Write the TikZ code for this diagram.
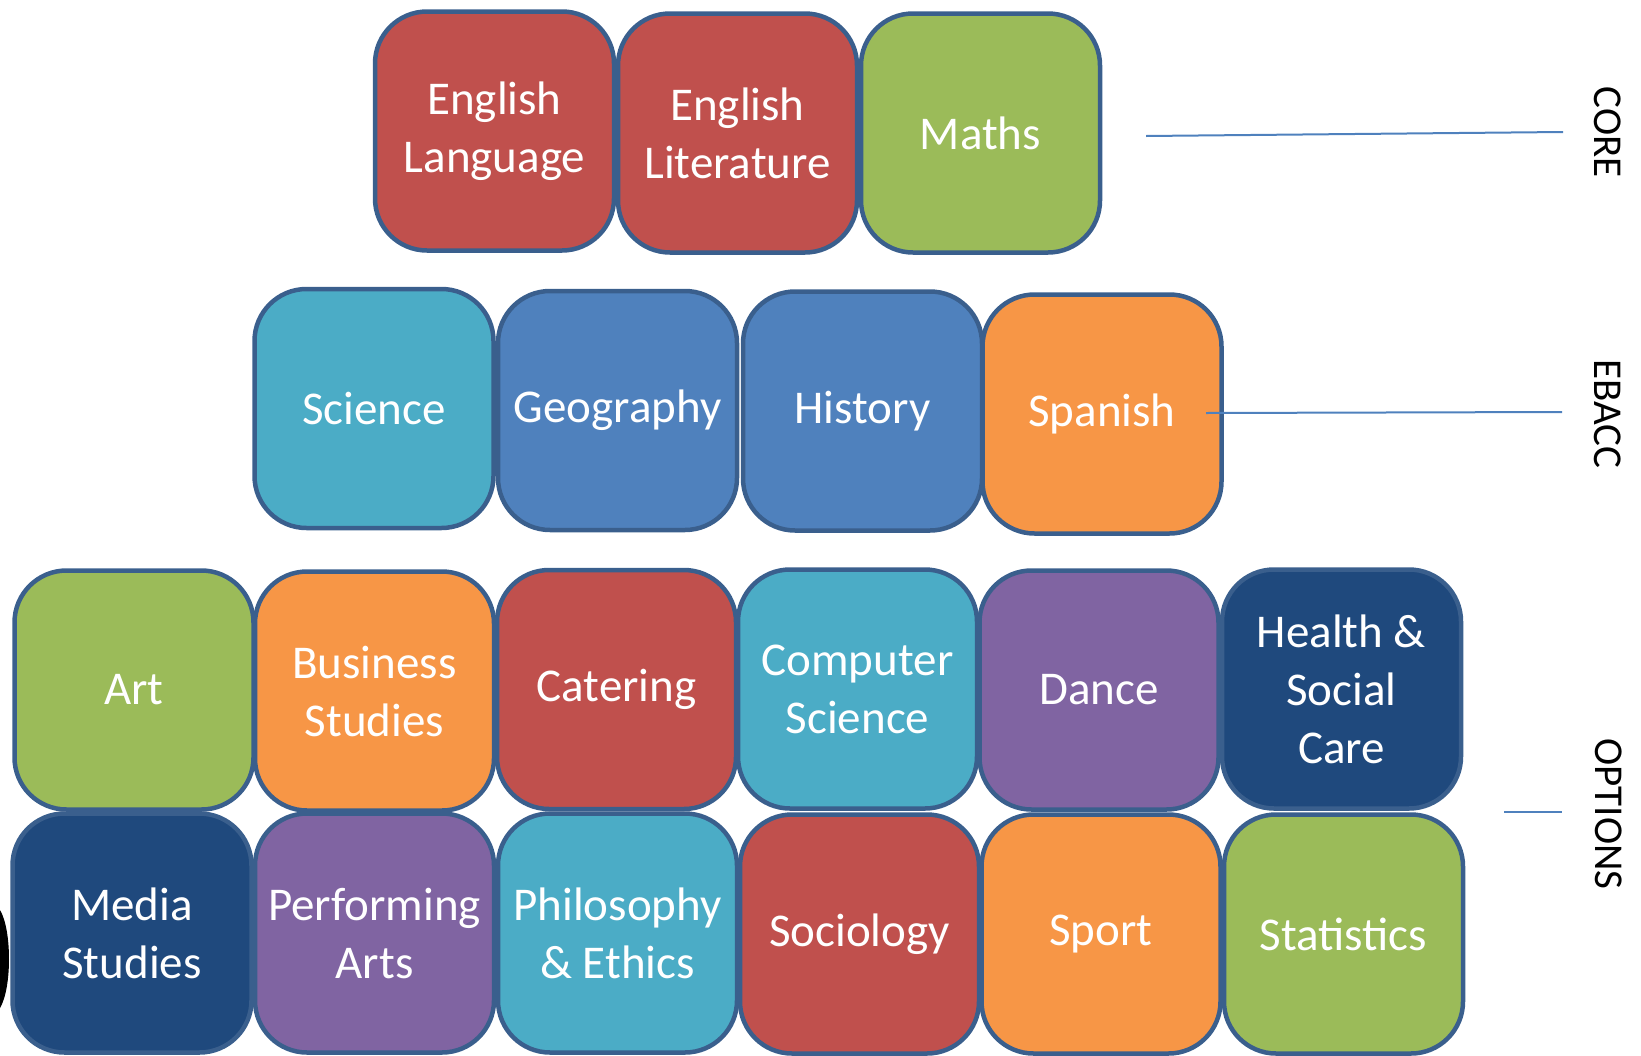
\documentclass[tikz,border=0pt]{standalone}
\usepackage{fontspec}
\setmainfont{Carlito}
\definecolor{cred}{HTML}{C0504D}
\definecolor{cgreen}{HTML}{9BBB59}
\definecolor{cteal}{HTML}{4BACC6}
\definecolor{cblue}{HTML}{4F81BD}
\definecolor{corange}{HTML}{F79646}
\definecolor{cpurple}{HTML}{8064A2}
\definecolor{cnavy}{HTML}{1F497D}
\definecolor{cborder}{HTML}{3A5F8D}
\definecolor{cline}{HTML}{4F81BD}
\begin{document}
\begin{tikzpicture}[x=1pt,y=-1pt,
  subj/.style={draw=cborder, line width=4.5pt, rounded corners=52pt,
    minimum width=239pt, minimum height=239pt, inner sep=0pt,
    text=white, align=center, font=\fontsize{47}{58}\selectfont},
  tag/.style={rotate=-90, font=\fontsize{41}{48}\selectfont, text=black, inner sep=0pt},
  link/.style={draw=cline, line width=2pt}]
\useasboundingbox (0,0) rectangle (1641,1055);
% left edge fragment
\fill[black] (0,910) .. controls (12,930) and (12,988) .. (0,1008) -- cycle;
% core row
\node[subj, fill=cred] (englang) at (494.5,131) {English\\Language};
\node[subj, fill=cred] (englit) at (737.5,133) {English\\Literature};
\node[subj, fill=cgreen] (maths) at (980.5,133) {Maths};
% ebacc row
\node[subj, fill=cteal] (science) at (374,408.5) {Science};
\node[subj, fill=cblue] (geography) at (617.5,410.5) {Geography};
\node[subj, fill=cblue] (history) at (862.5,411) {History};
\node[subj, fill=corange] (spanish) at (1102,414) {Spanish};
% options row 1
\node[subj, fill=cgreen] (art) at (134,690) {Art};
\node[subj, fill=corange] (business) at (374.5,691) {Business\\Studies};
\node[subj, fill=cred] (catering) at (616.5,689.5) {Catering};
\node[subj, fill=cteal] (computer) at (857.5,689) {Computer\\Science};
\node[subj, fill=cpurple] (dance) at (1099,690) {Dance};
\node[subj, fill=cnavy] (health) at (1341.5,689) {Health \&\\Social\\Care};
% options row 2
\node[subj, fill=cnavy] (media) at (132,933) {Media\\Studies};
\node[subj, fill=cpurple] (performing) at (374.5,933) {Performing\\Arts};
\node[subj, fill=cteal] (philosophy) at (617.5,933) {Philosophy\\\& Ethics};
\node[subj, fill=cred] (sociology) at (859.5,934) {Sociology};
\node[subj, fill=corange] (sport) at (1101,934) {Sport};
\node[subj, fill=cgreen] (statistics) at (1343.5,934) {Statistics};
% labels
\node[tag] (core) at (1608,132) {CORE};
\node[tag] (ebacc) at (1608,414) {EBACC};
\node[tag] (options) at (1609,814) {OPTIONS};
% connectors
\coordinate (c1) at (1146,136);
\coordinate (c1e) at (1563,132);
\coordinate (c2) at (1206,413);
\coordinate (c2e) at (1562,412);
\coordinate (c3) at (1504,812);
\coordinate (c3e) at (1562,812);
\draw[link] (c1) -- (c1e);
\draw[link] (c2) -- (c2e);
\draw[link] (c3) -- (c3e);
\end{tikzpicture}
\end{document}
